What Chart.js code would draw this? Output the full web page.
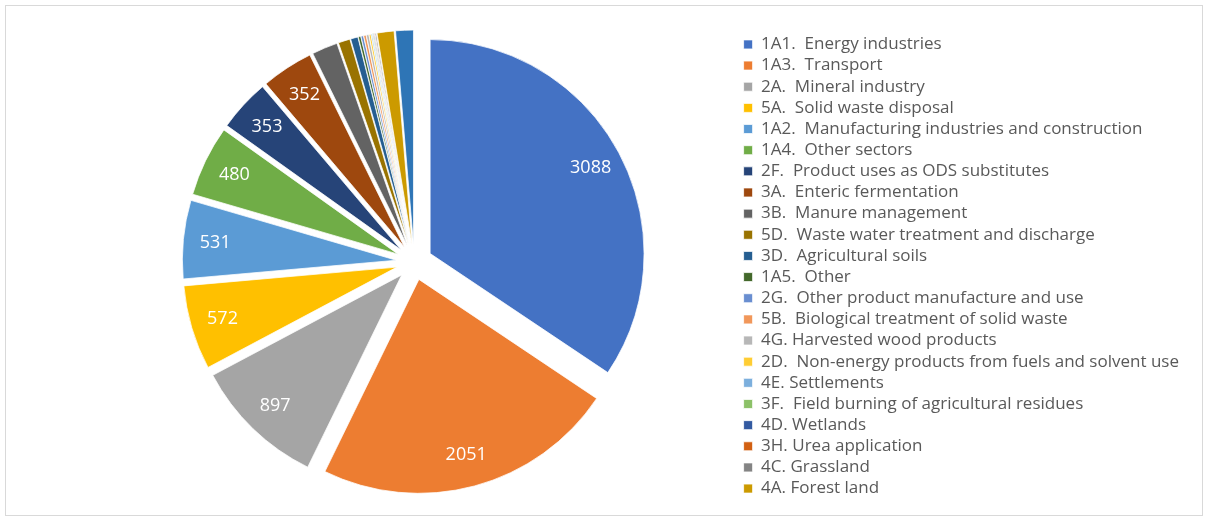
<!DOCTYPE html>
<html>
<head>
<meta charset="utf-8">
<script src="https://cdn.jsdelivr.net/npm/chart.js@4"></script>
<style>
  html, body { margin: 0; padding: 0; background: #fff; }
  #wrap { position: absolute; left: 5px; top: 5px; width: 1198px; height: 511px; border: 1px solid #d9d9d9; box-sizing: border-box; }
  canvas { display: block; }
</style>
</head>
<body>
<div id="wrap"><canvas id="pieChart"></canvas></div>
<script>
const categories = [
    '1A1.  Energy industries',
    '1A3.  Transport',
    '2A.  Mineral industry',
    '5A.  Solid waste disposal',
    '1A2.  Manufacturing industries and construction',
    '1A4.  Other sectors',
    '2F.  Product uses as ODS substitutes',
    '3A.  Enteric fermentation',
    '3B.  Manure management',
    '5D.  Waste water treatment and discharge',
    '3D.  Agricultural soils',
    '1A5.  Other',
    '2G.  Other product manufacture and use',
    '5B.  Biological treatment of solid waste',
    '4G. Harvested wood products',
    '2D.  Non-energy products from fuels and solvent use',
    '4E. Settlements',
    '3F.  Field burning of agricultural residues',
    '4D. Wetlands',
    '3H. Urea application',
    '4C. Grassland',
    '4A. Forest land',
    '4B. Cropland'
];
const emissions = [3088, 2051, 897, 572, 531, 480, 353, 352, 175, 80, 50, 17, 17, 17, 17, 13, 8, 6, 6, 5, 8, 115, 120];
const colors = [
    '#4472C4', '#ED7D31', '#A5A5A5', '#FFC000', '#5B9BD5', '#70AD47',
    '#264478', '#9E480E', '#636363', '#997300', '#255E91', '#43682B',
    '#698ED0', '#F1975A', '#B7B7B7', '#FFCD33', '#7CAFDD', '#8CC168',
    '#335AA1', '#D26012', '#848484', '#CC9A00', '#2E75B6'
];
const legendCount = 22;   // legend in the original stops at 4A
const labelMin = 300;     // only the big slices carry a value

const FONT = "'Open Sans', sans-serif";

// Excel style explosion: every wedge is moved out whole, nothing is trimmed
class ExplodedArc extends Chart.ArcElement {
    draw(ctx) {
        const {x, y, startAngle, endAngle, outerRadius} = this;
        const o = this.options;
        const d = o.offset || 0;
        const mid = (startAngle + endAngle) / 2;
        ctx.save();
        ctx.translate(Math.cos(mid) * d, Math.sin(mid) * d);
        ctx.beginPath();
        ctx.moveTo(x, y);
        ctx.arc(x, y, outerRadius, startAngle, endAngle);
        ctx.closePath();
        ctx.fillStyle = o.backgroundColor;
        ctx.fill();
        if (o.borderWidth) {
            ctx.lineWidth = o.borderWidth;
            ctx.strokeStyle = o.borderColor;
            ctx.lineJoin = 'bevel';
            ctx.stroke();
        }
        ctx.restore();
    }
}
ExplodedArc.id = 'explodedArc';

class ExplodedPie extends Chart.PieController {}
ExplodedPie.id = 'explodedPie';
ExplodedPie.defaults = { dataElementType: 'explodedArc' };

Chart.register(ExplodedArc, ExplodedPie);

// draw the values inside the big slices
const sliceLabels = {
    id: 'sliceLabels',
    afterDatasetsDraw(chart) {
        const ctx = chart.ctx;
        const meta = chart.getDatasetMeta(0);
        ctx.save();
        ctx.fillStyle = '#ffffff';
        ctx.font = '18px ' + FONT;
        ctx.textAlign = 'center';
        ctx.textBaseline = 'middle';
        meta.data.forEach((arc, i) => {
            const v = emissions[i];
            if (v < labelMin) return;
            const p = arc.getProps(['x', 'y', 'startAngle', 'endAngle', 'outerRadius'], true);
            const mid = (p.startAngle + p.endAngle) / 2;
            const r = p.outerRadius - 32 + (arc.options.offset || 0);
            ctx.fillText(String(v), p.x + Math.cos(mid) * r, p.y + Math.sin(mid) * r);
        });
        ctx.restore();
    }
};

const ctx = document.getElementById('pieChart').getContext('2d');
new Chart(ctx, {
    type: 'explodedPie',
    data: {
        labels: categories,
        datasets: [{
            data: emissions,
            backgroundColor: colors,
            borderColor: '#ffffff',
            borderWidth: 0.75,
            offset: 18,
            radius: '90.8%'
        }]
    },
    options: {
        responsive: true,
        maintainAspectRatio: false,
        animation: false,
        layout: { padding: { left: 83, right: 13, top: 11, bottom: 8 } },
        plugins: {
            tooltip: { enabled: false },
            legend: {
                position: 'right',
                align: 'center',
                // empty title only nudges the column down a little
                title: { display: true, text: ' ', padding: 0, font: { size: 7.5 } },
                labels: {
                    boxWidth: 9,
                    boxHeight: 9,
                    padding: 4.15,
                    color: '#595959',
                    font: { family: FONT, size: 17 },
                    filter: item => item.index < legendCount
                }
            }
        }
    },
    plugins: [sliceLabels]
});
</script>
</body>
</html>
